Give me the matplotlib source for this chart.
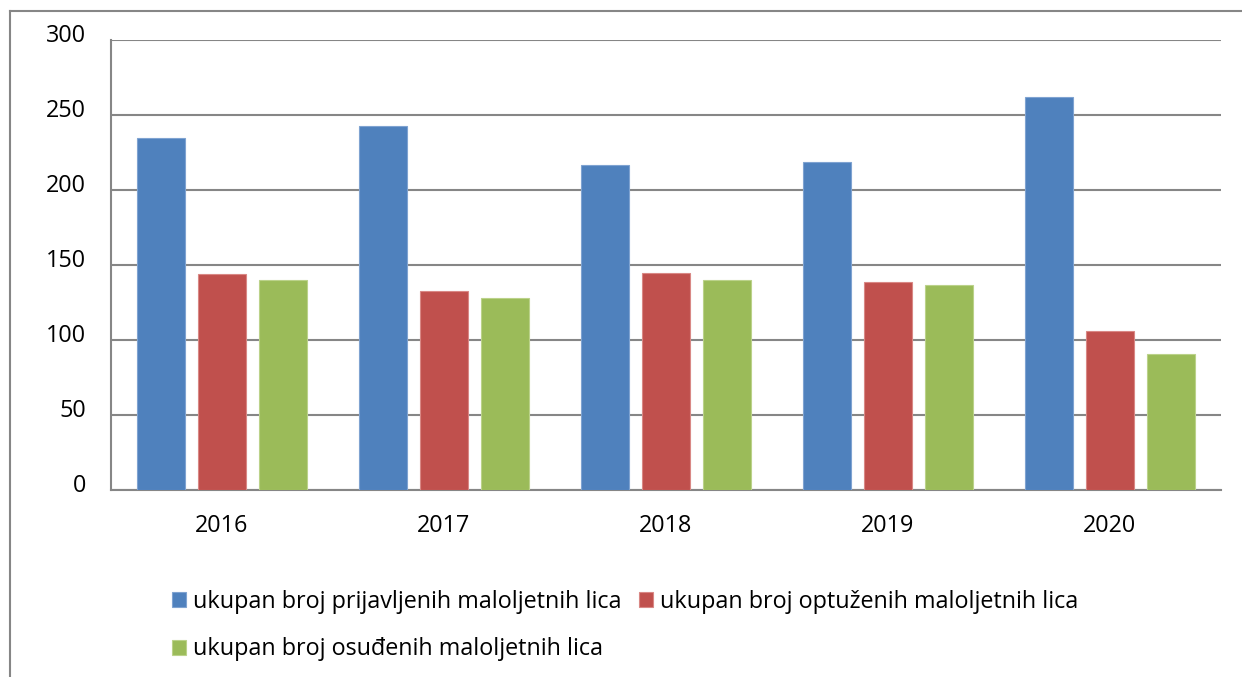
import matplotlib
matplotlib.use("Agg")
import matplotlib.pyplot as plt
import matplotlib.transforms as mtransforms
from matplotlib.lines import Line2D
import numpy as np

years = ["2016", "2017", "2018", "2019", "2020"]
prijavljeni = [235, 243, 217, 219, 262]
optuzeni = [144, 133, 145, 139, 106]
osudeni = [140, 128, 140, 137, 91]
series_names = [
    "ukupan broj prijavljenih maloljetnih lica",
    "ukupan broj optuženih maloljetnih lica",
    "ukupan broj osuđenih maloljetnih lica",
]
y_ticks = [0, 50, 100, 150, 200, 250, 300]

colors = ["#4F81BD", "#C0504D", "#9BBB59"]
edges = ["#7FA3D1", "#D98885", "#BBD28A"]
grid_c = "#868686"
FONT = "Open Sans"
FS = 16.8

W, H = 1242, 677
fig = plt.figure(figsize=(W / 100, H / 100), dpi=100)
ax = fig.add_axes([111 / W, 1 - 490 / H, 1110 / W, 450 / H])

x = np.arange(len(years))
bw = 0.22
step = 0.275
containers = []
for i, (vals, c, ec) in enumerate(zip([prijavljeni, optuzeni, osudeni], colors, edges)):
    bc = ax.bar(x + (i - 1) * step, vals, width=bw, color=c, edgecolor=ec,
                linewidth=0.8, zorder=3, label=series_names[i])
    containers.append(bc)

ax.set_xlim(-0.5, len(years) - 0.5)
ax.set_ylim(0, 300)
ax.set_yticks(y_ticks)
ax.set_yticklabels([str(v) for v in y_ticks], fontsize=FS, family=FONT)
ax.yaxis.grid(True, color=grid_c, linewidth=1.5, zorder=0)
ax.tick_params(axis="y", length=0, pad=18)
ax.set_xticks(x)
ax.set_xticklabels(years, fontsize=FS, family=FONT)
ax.tick_params(axis="x", length=0, pad=17)

offset = mtransforms.ScaledTranslation(0, 7 / 100, fig.dpi_scale_trans)
for lab in ax.get_yticklabels():
    lab.set_transform(lab.get_transform() + offset)

for s in ["top", "right"]:
    ax.spines[s].set_visible(False)
for s in ["left", "bottom"]:
    ax.spines[s].set_color(grid_c)
    ax.spines[s].set_linewidth(1.5)

handles = [containers[0], containers[2], containers[1]]
labels = [series_names[0], series_names[2], series_names[1]]
fig.legend(handles, labels, loc="upper left",
           bbox_to_anchor=(172 / W, 1 - 590 / H), ncol=2, frameon=False,
           prop={"family": FONT, "size": FS}, borderpad=0, borderaxespad=0,
           handlelength=0.6, handleheight=0.6, handletextpad=0.3,
           columnspacing=0.75, labelspacing=1.0)

# outer frame (top and left visible)
fig.add_artist(Line2D([10 / W, 1.0], [1 - 10.5 / H, 1 - 10.5 / H],
                      transform=fig.transFigure, color=grid_c, linewidth=1.5))
fig.add_artist(Line2D([10 / W, 10 / W], [1 - 10.5 / H, 0],
                      transform=fig.transFigure, color=grid_c, linewidth=1.5))

fig.savefig("out.png", dpi=100)
